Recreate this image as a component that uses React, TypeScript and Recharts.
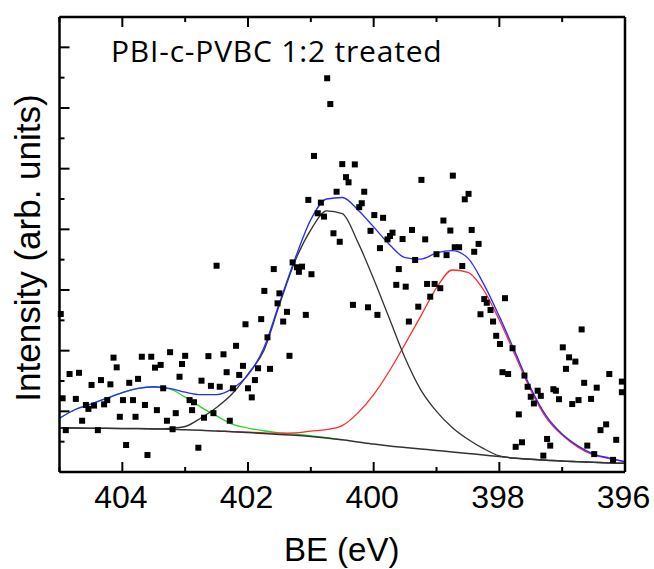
import { ComposedChart, Line, Scatter, XAxis, YAxis } from "recharts";

// binding energy grid for the fitted curves (eV)
const energyGrid = [405, 404.75, 404.5, 404.25, 404, 403.75, 403.5, 403.25, 403, 402.75, 402.5, 402.25, 402, 401.75, 401.5, 401.25, 401, 400.75, 400.5, 400.25, 400, 399.75, 399.5, 399.25, 399, 398.75, 398.5, 398.25, 398, 397.75, 397.5, 397.25, 397, 396.75, 396.5, 396.25, 396];

// Shirley-type background
const background = [145, 145, 144, 144, 143, 143, 142, 141, 139, 138, 135, 133, 130, 127, 124, 121, 117, 112, 106, 99, 92, 86, 81, 76, 71, 66, 61, 56, 51, 46, 42, 39, 36, 34, 32, 30, 29];
// total fit envelope
const envelope = [177, 206, 224, 243, 262, 276, 281, 276, 263, 255, 255, 275, 320, 408, 557, 704, 832, 900, 905, 864, 808, 750, 707, 702, 722, 730, 705, 620, 513, 396, 277, 184, 125, 86, 59, 46, 34];
// component near 403.5 eV (drawn to 400.5 eV)
const peakHigh = [177, 206, 224, 243, 262, 276, 280, 274, 247, 214, 185, 158, 145, 136, 129, 125, 119, 113, 106];
// main component near 400.6 eV
const peakMain = [145, 145, 144, 144, 143, 143, 142, 144, 150, 178, 213, 258, 323, 399, 551, 696, 798, 861, 852, 757, 636, 506, 376, 271, 200, 147, 108, 77, 53, 45, 42, 39, 36, 34, 32, 30, 29];
// component near 398.7 eV (starts at 402.5 eV)
const peakLow = [135, 133, 131, 129, 128, 129, 135, 140, 153, 195, 255, 333, 422, 514, 607, 666, 658, 600, 501, 386, 270, 178, 122, 82, 56, 44, 33];

// measured points [BE, intensity]
const measured: [number, number][] = [
  [400.74, 1298], [400.69, 1213], [400.95, 1042], [400.5, 1015], [400.44, 972], [400.4, 955],
  [400.59, 924], [401.04, 897], [400.84, 888], [400.89, 853], [400.79, 842], [400.64, 787],
  [400.54, 759], [402.5, 680], [401.59, 669], [401.29, 691], [401.22, 675], [401.14, 677],
  [401.19, 660], [400.99, 652], [401.74, 597], [401.5, 589], [400.3, 1014], [400.15, 924],
  [399.24, 963], [398.74, 977], [398.49, 917], [398.55, 899], [400.19, 886], [400.23, 873],
  [399.99, 847], [399.85, 838], [398.89, 829], [400.05, 795], [399.7, 789], [399.74, 778],
  [399.78, 767], [399.39, 798], [398.78, 796], [398.44, 798], [399.54, 768], [399.18, 767],
  [398.33, 752], [399.9, 738], [398.71, 741], [398.64, 741], [398.4, 726], [399.0, 718],
  [398.84, 715], [399.34, 699], [398.59, 679], [399.6, 669], [399.64, 617], [399.49, 611],
  [399.15, 620], [399.03, 620], [398.94, 606], [399.1, 578], [398.24, 570], [397.91, 573],
  [404.98, 521], [404.84, 323], [404.69, 327], [404.95, 243], [404.74, 241], [404.58, 221],
  [404.54, 208], [404.45, 219], [404.64, 169], [404.9, 138], [404.49, 287], [404.34, 303],
  [404.19, 289], [404.14, 377], [404.09, 345], [404.29, 223], [404.24, 237], [403.99, 237],
  [404.04, 182], [403.89, 294], [403.75, 307], [403.83, 237], [403.79, 182], [403.64, 221],
  [403.69, 380], [403.54, 380], [403.48, 344], [403.39, 353], [403.24, 395], [403.35, 276],
  [403.45, 204], [403.29, 169], [403.15, 194], [404.39, 138], [403.94, 89], [403.6, 56],
  [403.2, 141], [403.09, 314], [403.05, 356], [403.0, 383], [402.93, 237], [402.86, 230],
  [402.89, 204], [402.79, 80], [402.74, 301], [402.7, 179], [402.63, 382], [402.59, 284],
  [402.45, 281], [402.39, 388], [402.34, 329], [402.55, 194], [402.29, 169], [402.24, 276],
  [402.19, 416], [402.14, 320], [402.08, 350], [402.04, 487], [402.0, 276], [401.94, 246],
  [401.89, 303], [401.84, 342], [401.79, 504], [401.65, 340], [401.69, 444], [401.53, 556],
  [401.44, 496], [401.38, 528], [401.34, 383], [401.08, 518],
  [400.33, 551], [400.09, 543], [399.94, 518], [399.29, 545], [399.44, 496], [398.3, 520],
  [398.2, 558], [398.14, 534], [398.1, 496], [398.05, 449], [397.99, 422], [397.79, 408],
  [397.95, 329], [397.86, 323], [397.6, 318], [397.55, 281], [397.5, 248], [397.45, 226],
  [397.39, 268], [397.34, 251], [397.69, 190], [397.74, 83], [397.64, 98], [397.3, 54],
  [397.24, 109], [397.19, 87], [397.14, 273], [397.1, 268], [397.05, 240], [396.99, 411],
  [396.94, 340], [396.89, 378], [396.79, 364], [396.69, 470], [396.65, 294], [396.84, 224],
  [396.74, 237], [396.54, 241], [396.45, 278], [396.39, 138], [396.3, 157], [396.6, 87],
  [396.49, 59], [396.25, 323], [396.05, 298], [396.05, 263], [396.14, 106], [396.19, 40],
];

const xTicks = [405, 404, 403, 402, 401, 400, 399, 398, 397, 396];
const yTicks = [0, 100, 200, 300, 400, 500, 600, 700, 800, 900, 1000, 1100, 1200, 1300, 1400, 1500];

const curveRows = energyGrid.map((be, i) => ({
  be,
  background: background[i],
  envelope: envelope[i],
  peakHigh: i < peakHigh.length ? peakHigh[i] : null,
  peakMain: peakMain[i],
  peakLow: i >= energyGrid.length - peakLow.length ? peakLow[i - (energyGrid.length - peakLow.length)] : null,
}));

const pointRows = measured.map(([be, intensity]) => ({ be, intensity }));

const axisFont = "'Liberation Sans', Arial, sans-serif";
const frame = { stroke: "#000", strokeWidth: 2.5 };

function tickLen(major: boolean) {
  return major ? 10 : 5;
}

function BottomTick(p: any) {
  const v = p.payload.value;
  const major = v % 2 === 0;
  return (
    <g>
      <line x1={p.x} x2={p.x} y1={p.y} y2={p.y - tickLen(major)} stroke="#000" strokeWidth={2} />
      {major && (
        <text x={p.x - 1.5} y={p.y + 36} textAnchor="middle" fontSize={32} fontFamily={axisFont} fill="#000">
          {v}
        </text>
      )}
    </g>
  );
}

function TopTick(p: any) {
  const major = p.payload.value % 2 === 0;
  return <line x1={p.x} x2={p.x} y1={p.y} y2={p.y + tickLen(major)} stroke="#000" strokeWidth={2} />;
}

function LeftTick(p: any) {
  const major = p.payload.value % 200 === 0;
  return <line x1={p.x} x2={p.x + tickLen(major)} y1={p.y} y2={p.y} stroke="#000" strokeWidth={2} />;
}

function RightTick(p: any) {
  const major = p.payload.value % 200 === 0;
  return <line x1={p.x} x2={p.x - tickLen(major)} y1={p.y} y2={p.y} stroke="#000" strokeWidth={2} />;
}

export default function App() {
  return (
    <div style={{ position: "absolute", left: 0, top: 0, width: 654, height: 569, background: "#fff" }}>
      <ComposedChart width={654} height={569} data={curveRows} margin={{ top: 16, right: 28, bottom: 67, left: 58.5 }}>
        <XAxis xAxisId="bottom" type="number" dataKey="be" domain={[396, 405]} reversed ticks={xTicks} interval={0}
          height={30} tickSize={0} tickMargin={0} tickLine={false} axisLine={frame} tick={(p: any) => <BottomTick {...p} />} />
        <XAxis xAxisId="top" orientation="top" type="number" dataKey="be" domain={[396, 405]} reversed ticks={xTicks} interval={0}
          height={1} tickSize={0} tickMargin={0} tickLine={false} axisLine={frame} tick={(p: any) => <TopTick {...p} />} />
        <YAxis yAxisId="left" type="number" domain={[0, 1500]} ticks={yTicks} interval={0}
          width={1} tickSize={0} tickMargin={0} tickLine={false} axisLine={frame} tick={(p: any) => <LeftTick {...p} />} />
        <YAxis yAxisId="right" orientation="right" type="number" domain={[0, 1500]} ticks={yTicks} interval={0}
          width={1} tickSize={0} tickMargin={0} tickLine={false} axisLine={frame} tick={(p: any) => <RightTick {...p} />} />

        <Line xAxisId="bottom" yAxisId="left" type="monotone" dataKey="peakHigh" stroke="#22dd22" strokeWidth={1.3} dot={false} activeDot={false} isAnimationActive={false} />
        <Line xAxisId="bottom" yAxisId="left" type="monotone" dataKey="peakLow" stroke="#ff2a2a" strokeWidth={1.3} dot={false} activeDot={false} isAnimationActive={false} />
        <Line xAxisId="bottom" yAxisId="left" type="monotone" dataKey="background" stroke="#333" strokeWidth={1.5} dot={false} activeDot={false} isAnimationActive={false} />
        <Line xAxisId="bottom" yAxisId="left" type="monotone" dataKey="peakMain" stroke="#333" strokeWidth={1.3} dot={false} activeDot={false} isAnimationActive={false} />
        <Line xAxisId="bottom" yAxisId="left" type="monotone" dataKey="envelope" stroke="#2a2aff" strokeWidth={1.3} dot={false} activeDot={false} isAnimationActive={false} />
        <Scatter xAxisId="bottom" yAxisId="left" data={pointRows} dataKey="intensity" isAnimationActive={false}
          shape={(p: any) => <rect x={p.cx - 3} y={p.cy - 3} width={6} height={6} fill="#000" />} />
      </ComposedChart>
      <svg width={654} height={569} style={{ position: "absolute", left: 0, top: 0, pointerEvents: "none" }}>
        <text x={111} y={62} fontSize={30} letterSpacing={0.8} fontFamily="'Open Sans', sans-serif" fill="#000">
          PBI-c-PVBC 1:2 treated
        </text>
        <text x={40} y={248} transform="rotate(-90 40 248)" textAnchor="middle" fontSize={35} fontFamily={axisFont} fill="#000">
          Intensity (arb. units)
        </text>
        <text x={341.7} y={561} textAnchor="middle" fontSize={33} fontFamily={axisFont} fill="#000">
          BE (eV)
        </text>
      </svg>
    </div>
  );
}
